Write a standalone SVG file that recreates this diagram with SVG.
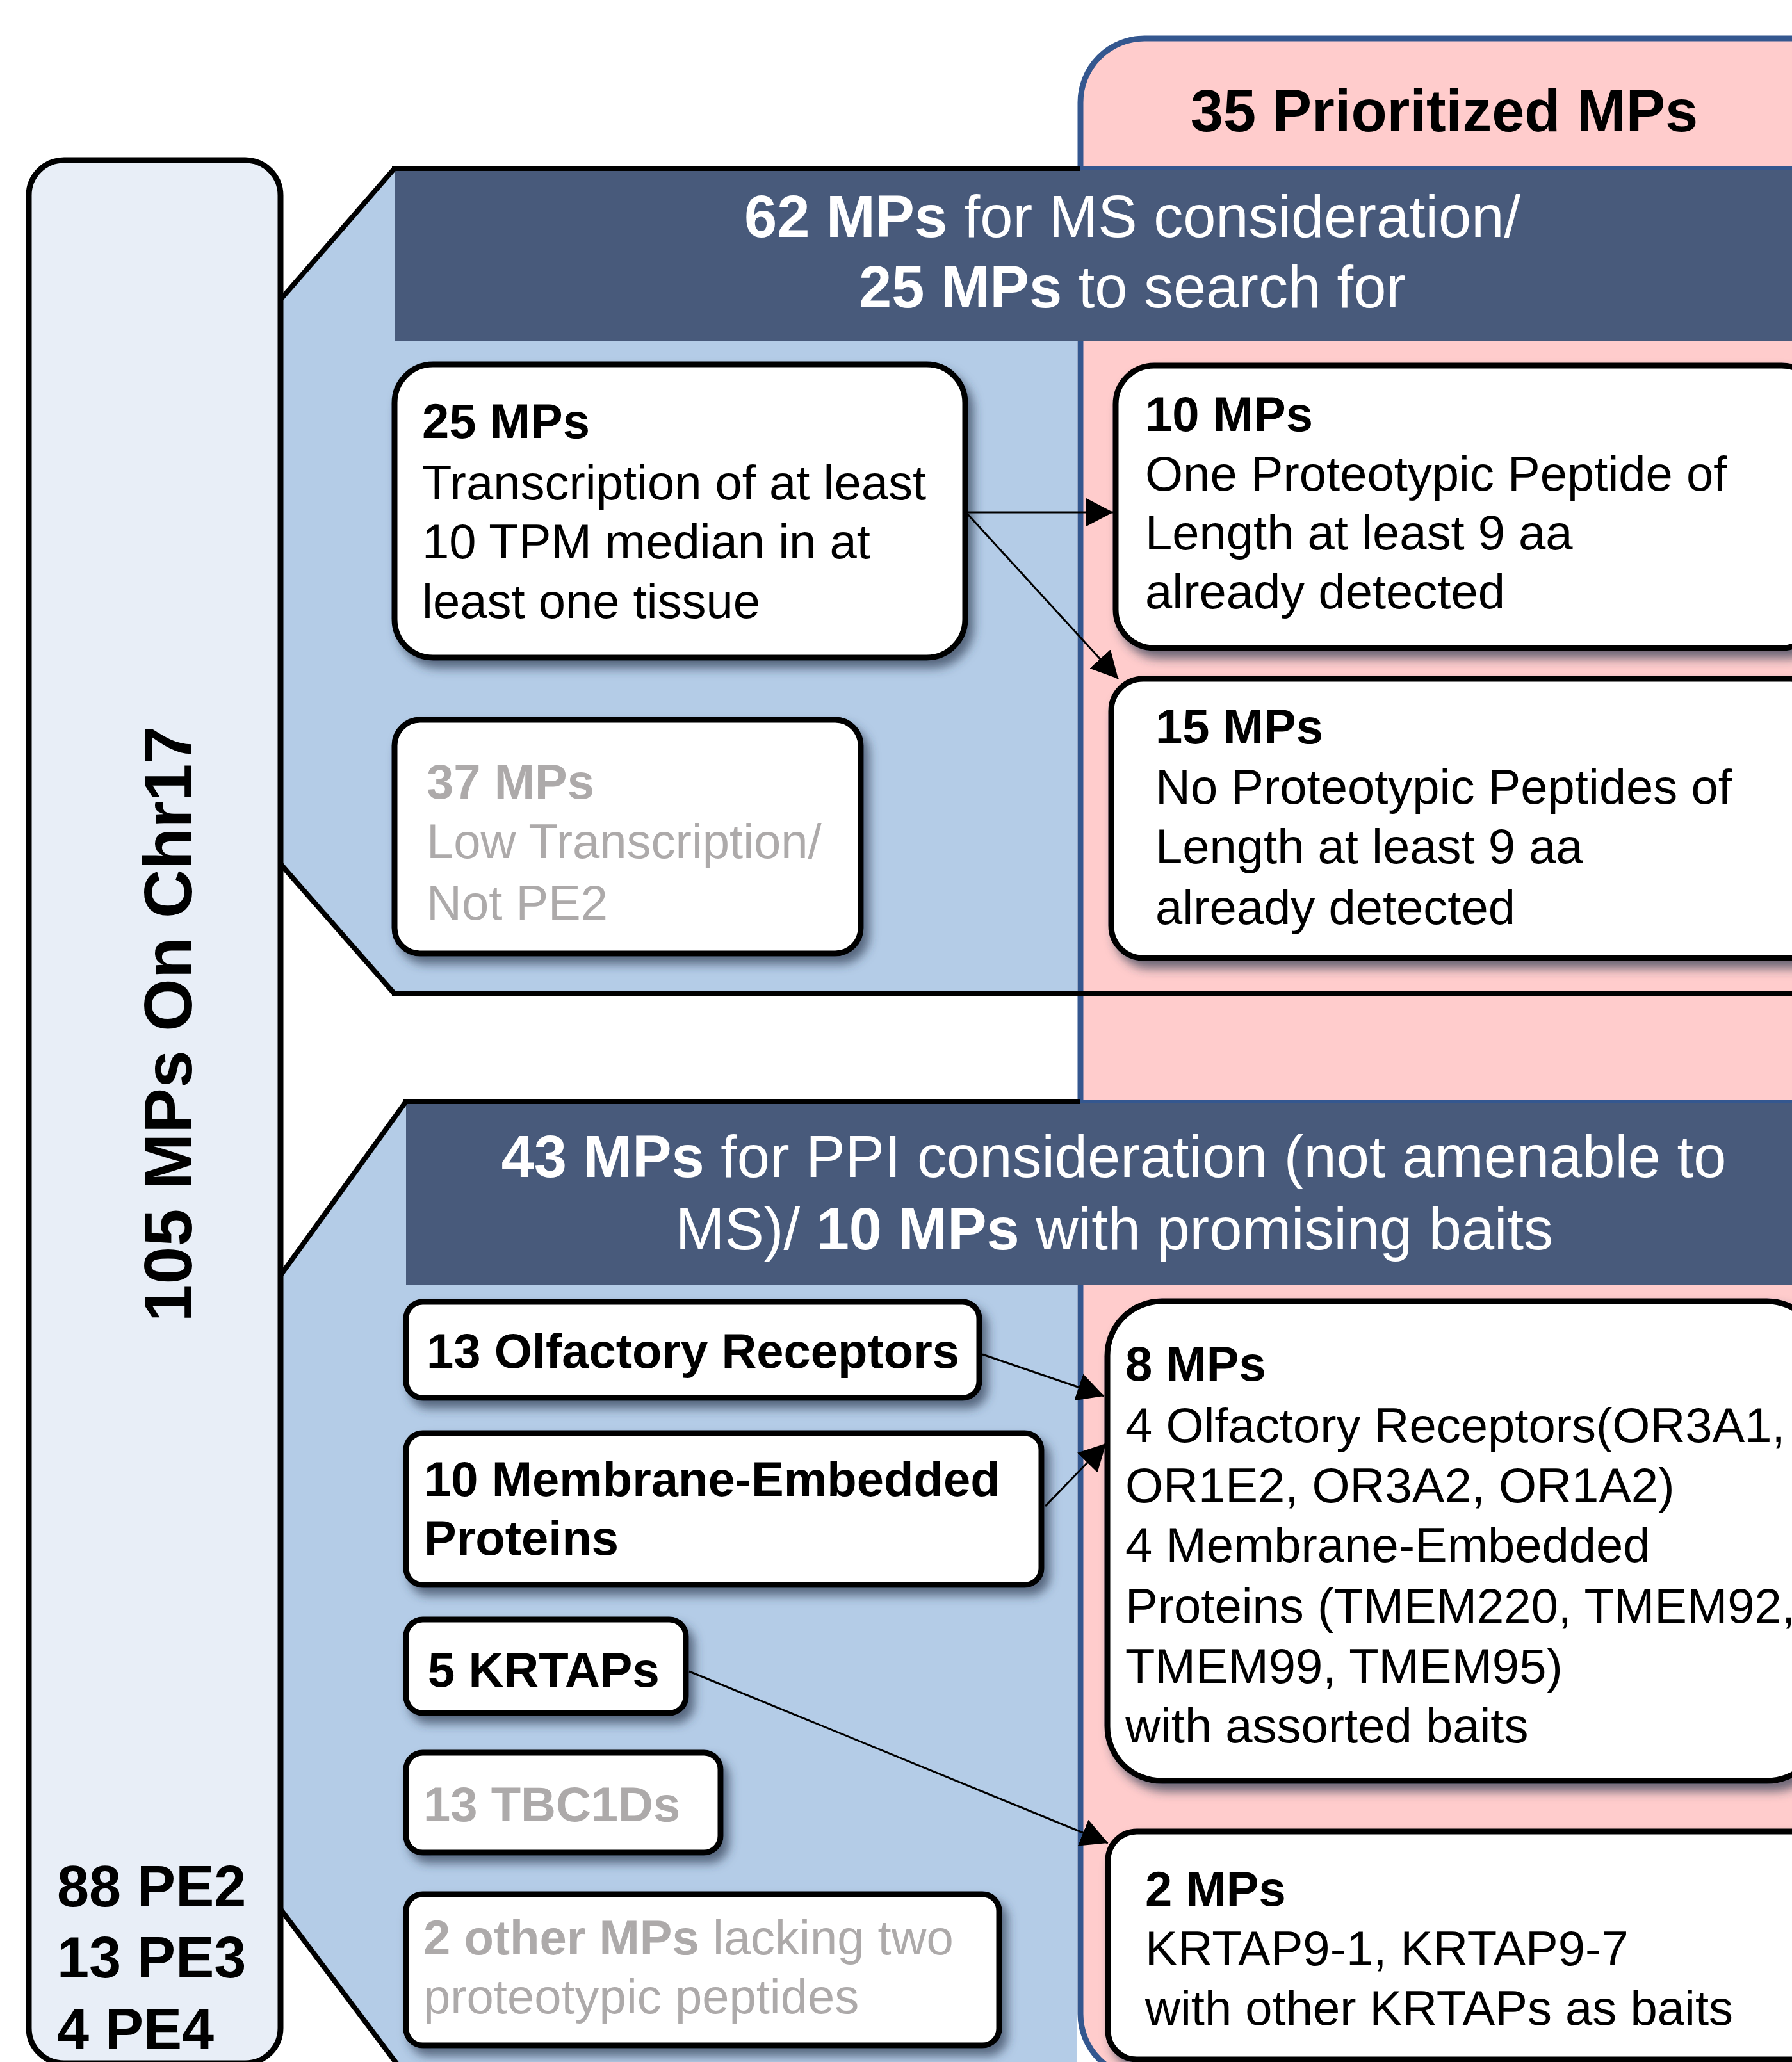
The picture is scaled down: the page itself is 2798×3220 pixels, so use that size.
<svg xmlns="http://www.w3.org/2000/svg" width="2798" height="3220" viewBox="0 0 2798 3220">
<defs>
<style>
text{font-family:"Liberation Sans",Arial,sans-serif;}
.nt{font-size:76px;fill:#000;}
.b{font-weight:bold;}
.g{fill:#ADAAAA;}
.hd{font-size:92px;fill:#fff;}
.box{fill:#fff;stroke:#000;stroke-width:9;filter:url(#sh);}
.edge{stroke:#000;stroke-width:3;fill:none;marker-end:url(#ah);}
.pl{stroke:#000;stroke-width:8;fill:none;}
</style>
<filter id="sh" x="-10%" y="-10%" width="130%" height="140%">
<feDropShadow dx="9" dy="12" stdDeviation="8" flood-color="#2e3c52" flood-opacity="0.7"/>
</filter>
<marker id="ah" markerUnits="userSpaceOnUse" markerWidth="44" markerHeight="44" refX="42" refY="22" orient="auto">
<path d="M0,0 L42,22 L0,44 Z" fill="#000"/>
</marker>
</defs>

<g id="prioritized">
<rect x="1687" y="60" width="1300" height="3185" rx="100" fill="#FFCCCC" stroke="#34578F" stroke-width="9"/>
<text x="2255" y="205" text-anchor="middle" class="b" style="font-size:92px;fill:#000">35 Prioritized MPs</text>
</g>

<g id="panel-ms">
<path d="M437,469 L616,263 L1682,263 L1682,1552 L616,1552 L437,1348 Z" fill="#B4CCE7"/>
<rect x="616" y="263" width="2190" height="270" fill="#485A7B"/>
<line x1="437" y1="469" x2="616" y2="263" class="pl"/>
<line x1="612" y1="263" x2="1686" y2="263" class="pl"/>
<line x1="1686" y1="263" x2="2798" y2="263" stroke="#34578F" stroke-width="6"/>
<line x1="437" y1="1348" x2="616" y2="1552" class="pl"/>
<line x1="612" y1="1552" x2="2798" y2="1552" class="pl"/>
<text x="1768" y="370" text-anchor="middle" class="hd"><tspan class="b">62 MPs</tspan> for MS consideration/</text>
<text x="1768" y="480" text-anchor="middle" class="hd"><tspan class="b">25 MPs</tspan> to search for</text>
</g>

<g id="panel-ppi">
<path d="M437,1993 L634,1720 L1682,1720 L1682,3230 L625,3230 L437,2980 Z" fill="#B4CCE7"/>
<rect x="634" y="1720" width="2170" height="286" fill="#485A7B"/>
<line x1="437" y1="1993" x2="634" y2="1720" class="pl"/>
<line x1="630" y1="1720" x2="1686" y2="1720" class="pl"/>
<line x1="1686" y1="1720" x2="2798" y2="1720" stroke="#34578F" stroke-width="6"/>
<line x1="437" y1="2980" x2="625" y2="3230" class="pl"/>
<text x="1739" y="1838" text-anchor="middle" class="hd"><tspan class="b">43 MPs</tspan> for PPI consideration (not amenable to</text>
<text x="1740" y="1951" text-anchor="middle" class="hd">MS)/ <tspan class="b">10 MPs</tspan> with promising baits</text>
</g>

<g id="chr17">
<rect x="45" y="250" width="393" height="2972" rx="55" fill="#E8EEF7" stroke="#000" stroke-width="9"/>
<text transform="translate(299,1599) rotate(-90)" text-anchor="middle" class="b" style="font-size:106px">105 MPs On Chr17</text>
<text x="89" y="2977" class="b" style="font-size:90px">88 PE2</text>
<text x="89" y="3088" class="b" style="font-size:90px">13 PE3</text>
<text x="89" y="3200" class="b" style="font-size:90px">4 PE4</text>
</g>

<g id="n25">
<rect x="616" y="569" width="891" height="458" rx="60" class="box"/>
<text x="659" y="684" class="nt b">25 MPs</text>
<text x="659" y="780" class="nt">Transcription of at least</text>
<text x="659" y="872" class="nt">10 TPM median in at</text>
<text x="659" y="965" class="nt">least one tissue</text>
</g>

<g id="n37">
<rect x="616" y="1124" width="728" height="365" rx="40" class="box"/>
<text x="666" y="1247" class="nt b g">37 MPs</text>
<text x="666" y="1340" class="nt g">Low Transcription/</text>
<text x="666" y="1436" class="nt g">Not PE2</text>
</g>

<g id="n10">
<rect x="1742" y="571" width="1100" height="441" rx="60" class="box"/>
<text x="1788" y="673" class="nt b">10 MPs</text>
<text x="1788" y="766" class="nt">One Proteotypic Peptide of</text>
<text x="1788" y="858" class="nt">Length at least 9 aa</text>
<text x="1788" y="950" class="nt">already detected</text>
</g>

<g id="n15">
<rect x="1735" y="1060" width="1110" height="436" rx="50" class="box"/>
<text x="1804" y="1161" class="nt b">15 MPs</text>
<text x="1804" y="1255" class="nt">No Proteotypic Peptides of</text>
<text x="1804" y="1348" class="nt">Length at least 9 aa</text>
<text x="1804" y="1443" class="nt">already detected</text>
</g>

<g id="nolf">
<rect x="634" y="2033" width="895" height="150" rx="26" class="box"/>
<text x="666" y="2136" class="nt b">13 Olfactory Receptors</text>
</g>

<g id="nmem">
<rect x="634" y="2238" width="992" height="237" rx="26" class="box"/>
<text x="662" y="2336" class="nt b">10 Membrane-Embedded</text>
<text x="662" y="2428" class="nt b">Proteins</text>
</g>

<g id="nkrtap">
<rect x="634" y="2529" width="437" height="146" rx="26" class="box"/>
<text x="668" y="2634" class="nt b">5 KRTAPs</text>
</g>

<g id="ntbc">
<rect x="634" y="2737" width="491" height="156" rx="26" class="box"/>
<text x="661" y="2844" class="nt b g">13 TBC1Ds</text>
</g>

<g id="nother">
<rect x="634" y="2958" width="926" height="236" rx="26" class="box"/>
<text x="661" y="3052" class="nt g"><tspan class="b">2 other MPs</tspan> lacking two</text>
<text x="661" y="3144" class="nt g">proteotypic peptides</text>
</g>

<g id="n8">
<rect x="1729" y="2032" width="1115" height="749" rx="85" class="box"/>
<text x="1757" y="2156" class="nt b">8 MPs</text>
<text x="1757" y="2252" class="nt">4 Olfactory Receptors(OR3A1,</text>
<text x="1757" y="2346" class="nt">OR1E2, OR3A2, OR1A2)</text>
<text x="1757" y="2439" class="nt">4 Membrane-Embedded</text>
<text x="1757" y="2534" class="nt">Proteins (TMEM220, TMEM92,</text>
<text x="1757" y="2628" class="nt">TMEM99, TMEM95)</text>
<text x="1757" y="2721" class="nt">with assorted baits</text>
</g>

<g id="n2">
<rect x="1730" y="2860" width="1115" height="356" rx="45" class="box"/>
<text x="1788" y="2976" class="nt b">2 MPs</text>
<text x="1788" y="3069" class="nt">KRTAP9-1, KRTAP9-7</text>
<text x="1788" y="3162" class="nt">with other KRTAPs as baits</text>
</g>

<g id="connectors">
<line x1="1511" y1="800" x2="1738" y2="800" class="edge"/>
<line x1="1511" y1="803" x2="1746" y2="1060" class="edge"/>
<line x1="1534" y1="2115" x2="1724" y2="2180" class="edge"/>
<line x1="1632" y1="2352" x2="1727" y2="2254" class="edge"/>
<line x1="1076" y1="2610" x2="1730" y2="2878" class="edge"/>
</g>
</svg>
